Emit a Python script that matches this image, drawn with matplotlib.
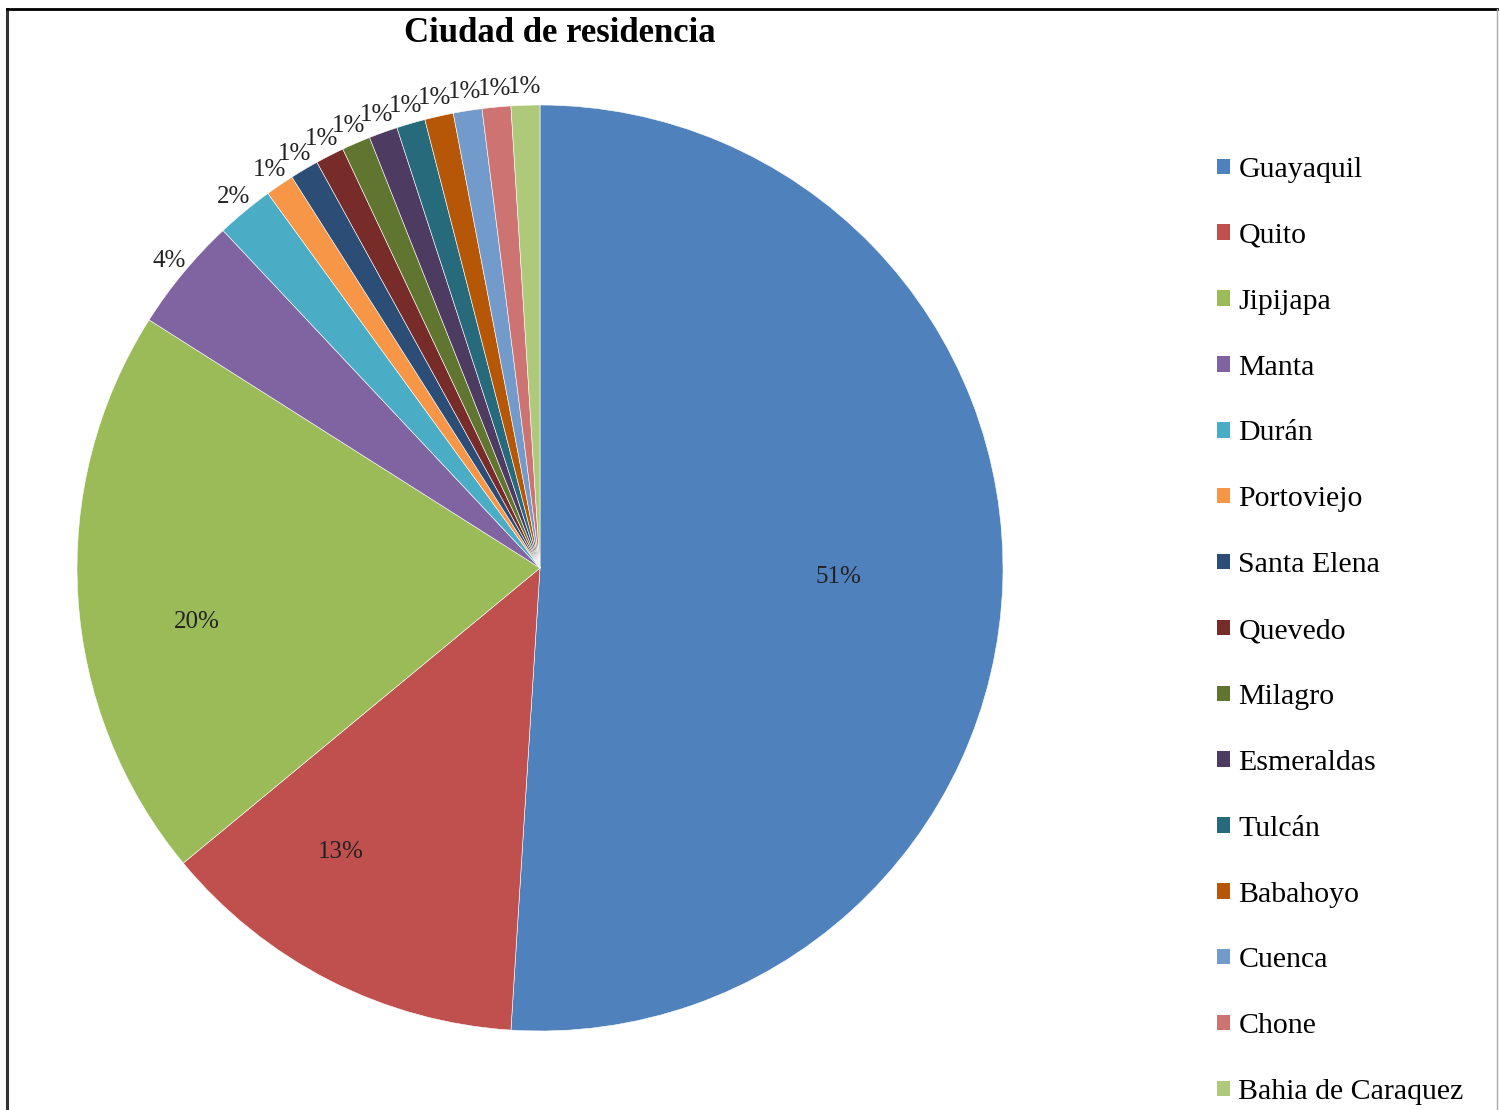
import numpy as np
import matplotlib
matplotlib.use("Agg")
import matplotlib.pyplot as plt
from matplotlib.patches import Patch
from matplotlib.lines import Line2D

plt.rcParams['font.family'] = ['Liberation Serif', 'DejaVu Serif']

# data
cities = ['Guayaquil', 'Quito', 'Jipijapa', 'Manta', 'Durán', 'Portoviejo',
          'Santa Elena', 'Quevedo', 'Milagro', 'Esmeraldas', 'Tulcán',
          'Babahoyo', 'Cuenca', 'Chone', 'Bahia de Caraquez']
shares = [51, 13, 20, 4, 2, 1, 1, 1, 1, 1, 1, 1, 1, 1, 1]

# Excel 2010 default series palette
colors = ['#4F81BD', '#C0504D', '#9BBB59', '#8064A2', '#4BACC6', '#F79646',
          '#2C4D75', '#772C2A', '#5F7530', '#4D3B62', '#276A7C', '#B65708',
          '#729ACA', '#CD7371', '#AFC97A']

W, H = 1500, 1110
fig = plt.figure(figsize=(W / 100, H / 100), dpi=100)

cx, cy, r = 540, 568, 463
ax = fig.add_axes([(cx - r) / W, (H - cy - r) / H, 2 * r / W, 2 * r / H])
wedges, _ = ax.pie(shares, colors=colors, startangle=90, counterclock=False,
                   radius=1, wedgeprops=dict(edgecolor='white', linewidth=0.4))
ax.set_xlim(-1, 1)
ax.set_ylim(-1, 1)
ax.set_aspect('equal')
ax.axis('off')

# percentage labels: inside for big slices, just outside for small ones
for w, v in zip(wedges, shares):
    ang = np.deg2rad((w.theta1 + w.theta2) / 2)
    if v >= 10:
        d = 0.644 if v > 40 else 0.75
        if v == 13:
            ang = np.deg2rad(-125)
        elif v == 20:
            ang = np.deg2rad(189)
    else:
        d = 1.04
    ax.text(d * np.cos(ang), d * np.sin(ang), f'{v}%', ha='center', va='center',
            fontsize=18, color='#222222', clip_on=False)

fig.text(560 / W, 1 - 33 / H, 'Ciudad de residencia', ha='center', va='center',
         fontsize=25, fontweight='bold')

handles = [Patch(facecolor=c, edgecolor='none') for c in colors]
fig.legend(handles, cities, loc='upper left', bbox_to_anchor=(1217 / W, 1 - 157 / H),
           frameon=False, fontsize=21.5, handlelength=0.42, handleheight=0.42,
           handletextpad=0.3, labelspacing=1.335, borderaxespad=0, borderpad=0)

# border of the original figure box
fig.add_artist(Line2D([7 / W, 7 / W], [0, 1 - 9 / H], color='#333333', lw=2.2))
fig.add_artist(Line2D([7 / W, 1497 / W], [1 - 9 / H, 1 - 9 / H], color='black', lw=2))
fig.add_artist(Line2D([1497 / W, 1497 / W], [0, 1 - 9 / H], color='#aaaaaa', lw=1))

fig.savefig('out.png', dpi=100, facecolor='white')
